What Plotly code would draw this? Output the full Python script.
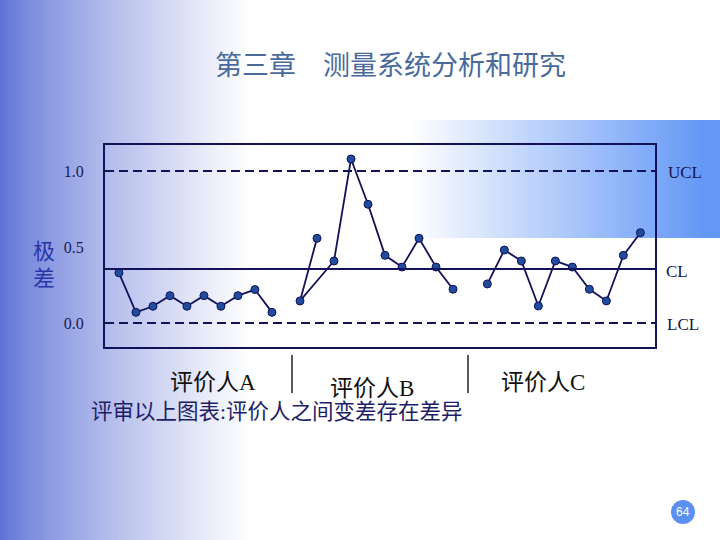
import plotly.graph_objects as go

# ---------------- data ----------------
y_tick_vals = [0.0, 0.5, 1.0]
y_tick_text = ["0.0", "0.5", "1.0"]

ucl = 1.0
cl = 0.355
lcl = 0.0
limit_names = ["UCL", "CL", "LCL"]

a_x = [1, 2, 3, 4, 5, 6, 7, 8, 9, 10]
a_y = [0.33, 0.07, 0.11, 0.18, 0.11, 0.18, 0.11, 0.18, 0.22, 0.07]

b_x = [11.65, 12.65, 13.65, 14.65, 15.65, 16.65, 17.65, 18.65, 19.65, 20.65]
b_y = [0.145, 0.557, 0.408, 1.079, 0.781, 0.445, 0.368, 0.557, 0.368, 0.222]
b_line_order = [1, 0, 2, 3, 4, 5, 6, 7, 8, 9]

c_x = [22.67, 23.67, 24.67, 25.67, 26.67, 27.67, 28.67, 29.67, 30.67, 31.67]
c_y = [0.257, 0.48, 0.408, 0.112, 0.408, 0.368, 0.222, 0.145, 0.445, 0.594]

appraisers = ["评价人A", "评价人B", "评价人C"]
title_text = "第三章　测量系统分析和研究"
y_title = ["极", "差"]
conclusion = "评审以上图表:评价人之间变差存在差异"
page_no = "64"

# ---------------- layout geometry ----------------
W, H = 720, 540
L, R, T, B = 105, 655, 145, 347


def px(x):
    return (x - L) / (R - L)


def py(y):
    return (B - y) / (B - T)


NAVY = "#12125a"
MARK = "#1f4c9c"
SERIF = "Liberation Serif, Noto Sans CJK SC, serif"
CJK = "Liberation Serif, Noto Sans CJK SC, sans-serif"

fig = go.Figure()

# lines
fig.add_trace(go.Scatter(x=a_x, y=a_y, mode="lines",
                         line=dict(color=NAVY, width=1.8), hoverinfo="skip"))
fig.add_trace(go.Scatter(x=[b_x[i] for i in b_line_order], y=[b_y[i] for i in b_line_order],
                         mode="lines", line=dict(color=NAVY, width=1.8), hoverinfo="skip"))
fig.add_trace(go.Scatter(x=c_x, y=c_y, mode="lines",
                         line=dict(color=NAVY, width=1.8), hoverinfo="skip"))
# markers
for xs, ys in [(a_x, a_y), (b_x, b_y), (c_x, c_y)]:
    fig.add_trace(go.Scatter(x=xs, y=ys, mode="markers",
                             marker=dict(size=8, color=MARK, line=dict(color=NAVY, width=1))))

shapes = []

# background gradient on the left
sr, sg, sb = 92, 112, 214
n = 60
gw = 250.0
for i in range(n):
    x0 = gw * i / n
    x1 = gw * (i + 1) / n + 0.8
    t = (i + 0.5) / n
    f = t ** 0.75
    col = "rgb(%d,%d,%d)" % (sr + (255 - sr) * f, sg + (255 - sg) * f, sb + (255 - sb) * f)
    shapes.append(dict(type="rect", xref="paper", yref="paper", layer="below",
                       x0=px(x0), x1=px(x1), y0=py(H), y1=py(0),
                       fillcolor=col, line=dict(width=0)))

# band at top right
er, eg, eb = 100, 152, 246
bx0, bx1 = 410.0, 705.0
nb = 60
for i in range(nb):
    x0 = bx0 + (bx1 - bx0) * i / nb
    x1 = bx0 + (bx1 - bx0) * (i + 1) / nb + 0.8
    t = (i + 0.5) / nb
    col = "rgb(%d,%d,%d)" % (255 + (er - 255) * t, 255 + (eg - 255) * t, 255 + (eb - 255) * t)
    shapes.append(dict(type="rect", xref="paper", yref="paper", layer="below",
                       x0=px(x0), x1=px(x1), y0=py(238), y1=py(120),
                       fillcolor=col, line=dict(width=0)))
shapes.append(dict(type="rect", xref="paper", yref="paper", layer="below",
                   x0=px(bx1), x1=px(W), y0=py(238), y1=py(120),
                   fillcolor="rgb(%d,%d,%d)" % (er, eg, eb), line=dict(width=0)))

# control limit lines
for val, dash in [(ucl, "9px,5px"), (cl, "solid"), (lcl, "9px,5px")]:
    shapes.append(dict(type="line", xref="paper", yref="y", x0=0, x1=1, y0=val, y1=val,
                       line=dict(color=NAVY, width=2, dash=dash), layer="above"))

# separators between appraisers
for sx in [292, 468]:
    shapes.append(dict(type="line", xref="paper", yref="paper",
                       x0=px(sx), x1=px(sx), y0=py(355), y1=py(393),
                       line=dict(color="#222222", width=1.5)))

# page badge
shapes.append(dict(type="circle", xref="paper", yref="paper",
                   x0=px(671), x1=px(695), y0=py(524), y1=py(500),
                   fillcolor="#5b8ff0", line=dict(width=0)))

annotations = []


def ann(text, x, y, size, color, family=SERIF, xanchor="center"):
    annotations.append(dict(text=text, x=px(x), y=py(y), xref="paper", yref="paper",
                            showarrow=False, xanchor=xanchor, yanchor="middle",
                            font=dict(size=size, color=color, family=family)))


ann(title_text, 390, 66, 27, "#4a6a9c", CJK)
for name, val, xx in zip(limit_names, [ucl, cl, lcl], [685, 677, 683]):
    annotations.append(dict(text=name, x=px(xx), y=val, xref="paper", yref="y",
                            showarrow=False, xanchor="center", yanchor="middle",
                            yshift=-2,
                            font=dict(size=17, color="#15154a", family=SERIF)))
ann(y_title[0], 44, 251, 22, "#2b36a6", CJK)
ann(y_title[1], 44, 278, 22, "#2b36a6", CJK)
ann(appraisers[0], 213, 382, 23, "#111111", CJK)
ann(appraisers[1], 372, 388, 23, "#111111", CJK)
ann(appraisers[2], 543, 382, 23, "#111111", CJK)
ann(conclusion, 89, 412, 21.5, "#1e1e66", CJK, xanchor="left")
ann(page_no, 683, 512, 12, "white", "Liberation Sans, Arial, sans-serif")

fig.update_layout(
    width=W, height=H,
    margin=dict(l=L, r=W - R, t=T, b=H - B),
    paper_bgcolor="white",
    plot_bgcolor="rgba(0,0,0,0)",
    showlegend=False,
    shapes=shapes,
    annotations=annotations,
    xaxis=dict(range=[0.18, 32.53], showgrid=False, zeroline=False, showticklabels=False,
               ticks="", showline=True, mirror=True, linecolor=NAVY, linewidth=2),
    yaxis=dict(range=[-0.158, 1.171], showgrid=False, zeroline=False,
               tickvals=y_tick_vals, ticktext=y_tick_text, ticks="",
               ticklabelstandoff=16,
               tickfont=dict(size=16, color="#1a1a55", family=SERIF),
               showline=True, mirror=True, linecolor=NAVY, linewidth=2),
)

fig.write_html("out.html", config={"displayModeBar": False},
               post_script="document.body.style.margin='0';")
